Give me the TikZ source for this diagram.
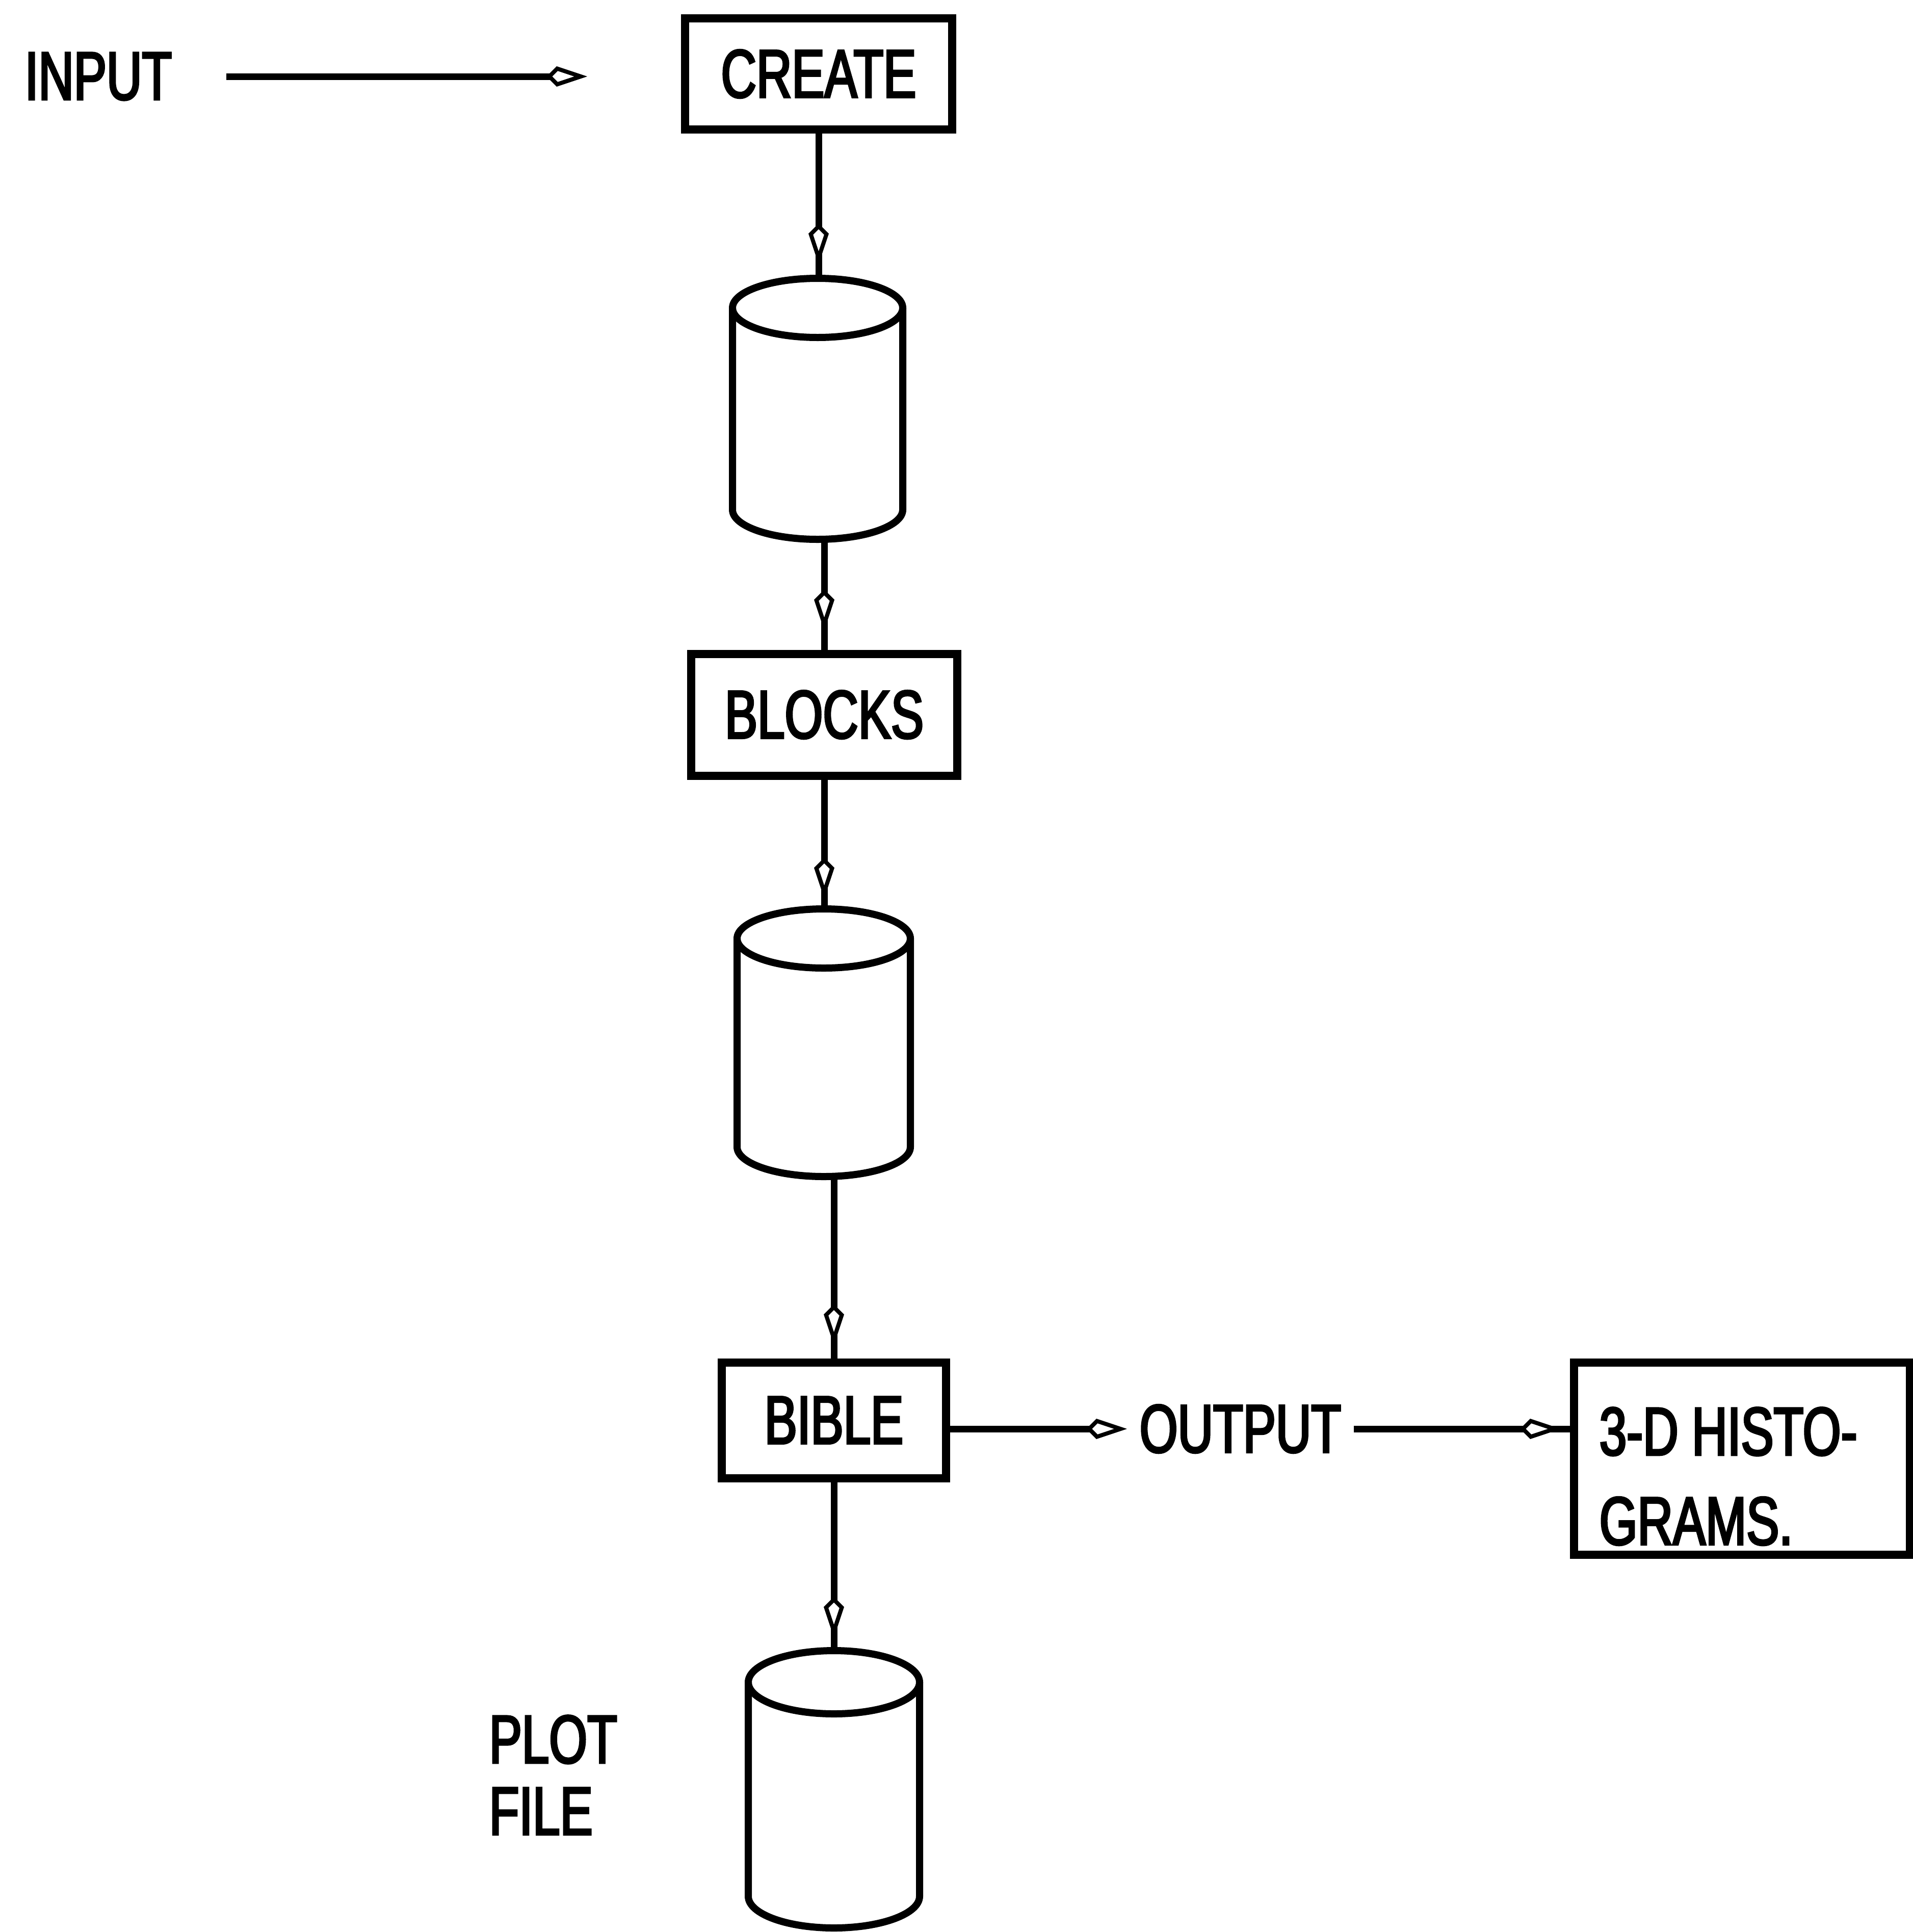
\documentclass[tikz,border=0pt]{standalone}
\usepackage{fontspec}
\setmainfont[FakeStretch=0.72,FakeBold=3]{Liberation Sans}
\usetikzlibrary{arrows.meta,decorations.markings,calc}
\tikzset{
  txt/.style={inner sep=0pt, font=\fontsize{38}{46}\selectfont},
  boxnode/.style={draw, rectangle, line width=0.16cm, inner sep=0pt, font=\fontsize{38}{46}\selectfont},
  drumnode/.style={rectangle, inner sep=0pt},
  drum/.style={line width=0.14cm},
  conn/.style={line width=0.13cm},
  kitetip/.tip={Kite[fill=white, length=0.8cm, width=0.4cm, line width=0.08cm]},
  tipat/.style={postaction={decorate, decoration={markings, mark=at position #1 with {\arrow{kitetip}}}}}
}
\newcommand\drawdrum[6]{% name, cx, ytop, ybot, rx, ry
  \node[drumnode, minimum width=2*#5 cm, minimum height=(#3-#4)*1cm] (#1) at (#2,{(#3+#4)/2}) {};
  \draw[drum] (#2,{#3-#6}) ellipse [x radius=#5, y radius=#6];
  \draw[drum] ({#2-#5},{#3-#6}) -- ({#2-#5},{#4+#6})
    arc[start angle=180, end angle=360, x radius=#5, y radius=#6] -- ({#2+#5},{#3-#6});
}
\begin{document}
\begin{tikzpicture}
\useasboundingbox (0,0) rectangle (37.53,-37.90);

% text nodes and boxes
\node[txt, anchor=west] (input) at (0.48,-1.50) {INPUT};
\node[boxnode, minimum width=5.24cm, minimum height=2.18cm] (create) at (16.06,-1.45) {CREATE};
\node[boxnode, minimum width=5.22cm, minimum height=2.39cm] (blocks) at (16.17,-14.02) {BLOCKS};
\node[boxnode, minimum width=4.40cm, minimum height=2.27cm] (bible) at (16.36,-27.86) {BIBLE};
\node[txt, anchor=west] (output) at (22.35,-28.03) {OUTPUT};
\node[boxnode, minimum width=6.59cm, minimum height=3.77cm] (histo) at (34.175,-28.615) {};
\node[txt, anchor=base west, align=left, font=\fontsize{38}{50}\selectfont] (histotxt) at (31.37,-30.30) {3-D HISTO-\\GRAMS.};
\node[txt, anchor=west, align=left, font=\fontsize{38}{40}\selectfont] (plotfile) at (9.59,-34.82) {PLOT\\FILE};

% drums
\drawdrum{c1}{16.04}{-5.46}{-10.58}{1.67}{0.58}
\drawdrum{c2}{16.16}{-17.83}{-23.08}{1.70}{0.58}
\drawdrum{c3}{16.36}{-32.38}{-37.82}{1.68}{0.62}

% connectors
\draw[conn, -{kitetip}, shorten <=1.06cm, shorten >=1.84cm] (input.east) -- (input.east -| create.west);
\draw[conn, tipat=-0.27cm] (create.south) -- (create.south |- c1.north);
\draw[conn, tipat=-0.38cm] (c1.south -| blocks.north) -- (blocks.north);
\draw[conn, tipat=-0.20cm] (blocks.south) -- (blocks.south |- c2.north);
\draw[conn, tipat=-0.26cm] (c2.south -| bible.north) -- (bible.north);
\draw[conn, tipat=-0.25cm] (bible.south) -- (bible.south |- c3.north);
\draw[conn, -{kitetip}, shorten >=0.24cm] (bible.east |- output.west) -- (output.west);
\draw[conn, tipat=-0.18cm, shorten <=0.24cm] (output.east) -- (output.east -| histo.west);
\end{tikzpicture}
\end{document}
